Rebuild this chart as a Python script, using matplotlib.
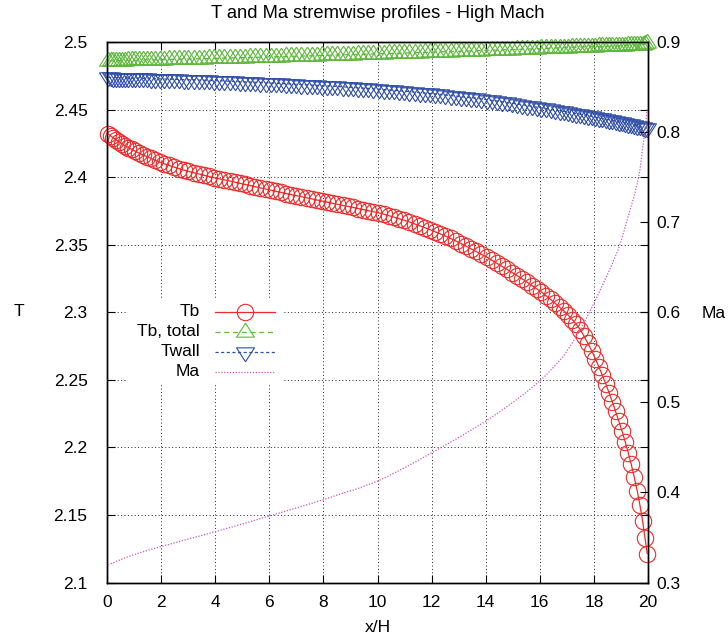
import matplotlib
matplotlib.use("Agg")
import matplotlib.pyplot as plt
from matplotlib.patches import Rectangle
from matplotlib.lines import Line2D

plt.rcParams['font.family'] = ['Liberation Sans', 'DejaVu Sans']

# streamwise stations (x/H)
x_h = [0.04, 0.13, 0.23, 0.33, 0.44, 0.55, 0.67, 0.79, 0.92, 1.05,
       1.19, 1.33, 1.48, 1.63, 1.79, 1.95, 2.12, 2.29, 2.47, 2.65,
       2.83, 3.01, 3.20, 3.39, 3.58, 3.77, 3.96, 4.15, 4.34, 4.53,
       4.72, 4.91, 5.10, 5.29, 5.48, 5.67, 5.86, 6.05, 6.24, 6.43,
       6.62, 6.81, 7.00, 7.19, 7.38, 7.57, 7.76, 7.95, 8.14, 8.33,
       8.52, 8.71, 8.90, 9.09, 9.28, 9.47, 9.66, 9.85, 10.04, 10.23,
       10.42, 10.61, 10.80, 10.99, 11.18, 11.37, 11.56, 11.75, 11.94, 12.13,
       12.32, 12.51, 12.70, 12.89, 13.08, 13.27, 13.46, 13.65, 13.84, 14.03,
       14.22, 14.41, 14.60, 14.79, 14.98, 15.17, 15.36, 15.54,
       15.72, 15.89, 16.06, 16.23, 16.40, 16.57, 16.73, 16.89, 17.05, 17.20,
       17.35, 17.50, 17.64, 17.78, 17.92, 18.05, 18.18, 18.31, 18.44, 18.56,
       18.68, 18.80, 18.92, 19.04, 19.16, 19.27, 19.38, 19.49, 19.60, 19.70,
       19.80, 19.89, 19.97]

# bulk temperature
tb = [2.4320, 2.4306, 2.4291, 2.4277, 2.4262, 2.4248, 2.4233, 2.4219, 2.4205, 2.4191,
      2.4177, 2.4164, 2.4151, 2.4138, 2.4125, 2.4112, 2.4099, 2.4087, 2.4075, 2.4064,
      2.4053, 2.4043, 2.4033, 2.4024, 2.4014, 2.4005, 2.3996, 2.3988, 2.3980, 2.3972,
      2.3963, 2.3955, 2.3946, 2.3938, 2.3929, 2.3921, 2.3912, 2.3904, 2.3896, 2.3887,
      2.3879, 2.3871, 2.3863, 2.3855, 2.3847, 2.3839, 2.3831, 2.3823, 2.3815, 2.3807,
      2.3799, 2.3791, 2.3784, 2.3776, 2.3768, 2.3760, 2.3752, 2.3744, 2.3736, 2.3726,
      2.3715, 2.3704, 2.3692, 2.3681, 2.3668, 2.3654, 2.3640, 2.3626, 2.3612, 2.3596,
      2.3580, 2.3564, 2.3547, 2.3528, 2.3509, 2.3490, 2.3470, 2.3450, 2.3429, 2.3409,
      2.3386, 2.3363, 2.3340, 2.3317, 2.3294, 2.3270, 2.3246, 2.3222,
      2.3197, 2.3173, 2.3150, 2.3123, 2.3095, 2.3066, 2.3038, 2.3010, 2.2979, 2.2946,
      2.2910, 2.2870, 2.2822, 2.2770, 2.2715, 2.2658, 2.2598, 2.2535, 2.2470, 2.2405,
      2.2338, 2.2268, 2.2195, 2.2120, 2.2040, 2.1960, 2.1875, 2.1782, 2.1680, 2.1575,
      2.1455, 2.1330, 2.1215]

# total bulk temperature
tb_total = [2.4860, 2.4861, 2.4861, 2.4861, 2.4862, 2.4862, 2.4863, 2.4864, 2.4864, 2.4865,
            2.4866, 2.4866, 2.4867, 2.4868, 2.4868, 2.4869, 2.4870, 2.4871, 2.4872, 2.4872,
            2.4873, 2.4874, 2.4875, 2.4876, 2.4877, 2.4878, 2.4879, 2.4880, 2.4881, 2.4882,
            2.4883, 2.4884, 2.4885, 2.4886, 2.4887, 2.4888, 2.4889, 2.4890, 2.4891, 2.4892,
            2.4893, 2.4894, 2.4895, 2.4896, 2.4897, 2.4898, 2.4899, 2.4901, 2.4902, 2.4903,
            2.4904, 2.4905, 2.4906, 2.4907, 2.4908, 2.4909, 2.4910, 2.4912, 2.4913, 2.4914,
            2.4915, 2.4916, 2.4917, 2.4918, 2.4920, 2.4921, 2.4922, 2.4923, 2.4924, 2.4926,
            2.4927, 2.4928, 2.4929, 2.4930, 2.4932, 2.4933, 2.4934, 2.4935, 2.4937, 2.4938,
            2.4939, 2.4940, 2.4942, 2.4943, 2.4944, 2.4946, 2.4947, 2.4948,
            2.4949, 2.4951, 2.4952, 2.4953, 2.4954, 2.4955, 2.4956, 2.4957, 2.4959, 2.4960,
            2.4961, 2.4962, 2.4963, 2.4964, 2.4965, 2.4966, 2.4967, 2.4968, 2.4968, 2.4969,
            2.4970, 2.4971, 2.4972, 2.4973, 2.4974, 2.4975, 2.4976, 2.4976, 2.4977, 2.4978,
            2.4979, 2.4982, 2.4995]

# wall temperature
t_wall = [2.4738, 2.4738, 2.4737, 2.4737, 2.4736, 2.4735, 2.4735, 2.4734, 2.4733, 2.4733,
          2.4732, 2.4731, 2.4730, 2.4729, 2.4728, 2.4727, 2.4726, 2.4725, 2.4724, 2.4723,
          2.4722, 2.4721, 2.4720, 2.4718, 2.4717, 2.4716, 2.4714, 2.4713, 2.4712, 2.4710,
          2.4708, 2.4707, 2.4705, 2.4703, 2.4702, 2.4700, 2.4698, 2.4697, 2.4695, 2.4693,
          2.4691, 2.4689, 2.4687, 2.4685, 2.4683, 2.4681, 2.4679, 2.4677, 2.4675, 2.4673,
          2.4671, 2.4668, 2.4666, 2.4664, 2.4661, 2.4659, 2.4656, 2.4654, 2.4651, 2.4648,
          2.4645, 2.4642, 2.4639, 2.4636, 2.4633, 2.4629, 2.4626, 2.4622, 2.4619, 2.4615,
          2.4612, 2.4608, 2.4604, 2.4600, 2.4596, 2.4592, 2.4588, 2.4584, 2.4579, 2.4574,
          2.4569, 2.4564, 2.4558, 2.4553, 2.4547, 2.4541, 2.4535, 2.4530,
          2.4524, 2.4518, 2.4513, 2.4508, 2.4502, 2.4497, 2.4491, 2.4486, 2.4480, 2.4475,
          2.4470, 2.4465, 2.4460, 2.4455, 2.4450, 2.4445, 2.4440, 2.4435, 2.4430, 2.4425,
          2.4420, 2.4415, 2.4410, 2.4405, 2.4400, 2.4395, 2.4390, 2.4385, 2.4380, 2.4375,
          2.4370, 2.4366, 2.4362]

# bulk Mach number (right axis)
mach = [0.3195, 0.3207, 0.3220, 0.3233, 0.3247, 0.3261, 0.3275, 0.3288, 0.3302, 0.3315,
        0.3329, 0.3342, 0.3356, 0.3369, 0.3383, 0.3396, 0.3410, 0.3424, 0.3439, 0.3454,
        0.3468, 0.3483, 0.3499, 0.3514, 0.3530, 0.3546, 0.3562, 0.3578, 0.3594, 0.3610,
        0.3626, 0.3642, 0.3659, 0.3676, 0.3693, 0.3710, 0.3727, 0.3744, 0.3761, 0.3778,
        0.3795, 0.3812, 0.3828, 0.3846, 0.3863, 0.3880, 0.3898, 0.3915, 0.3934, 0.3953,
        0.3972, 0.3991, 0.4010, 0.4025, 0.4045, 0.4066, 0.4087, 0.4108, 0.4131, 0.4158,
        0.4186, 0.4215, 0.4244, 0.4273, 0.4304, 0.4335, 0.4366, 0.4398, 0.4430, 0.4462,
        0.4494, 0.4526, 0.4559, 0.4591, 0.4624, 0.4658, 0.4692, 0.4726, 0.4761, 0.4796,
        0.4835, 0.4874, 0.4914, 0.4954, 0.4995, 0.5037, 0.5080, 0.5123,
        0.5167, 0.5210, 0.5255, 0.5303, 0.5356, 0.5410, 0.5464, 0.5518, 0.5592, 0.5660,
        0.5735, 0.5810, 0.5889, 0.5970, 0.6052, 0.6130, 0.6212, 0.6295, 0.6380, 0.6458,
        0.6540, 0.6625, 0.6712, 0.6825, 0.6950, 0.7065, 0.7180, 0.7290, 0.7430, 0.7575,
        0.7810, 0.8020, 0.8260]

x_ticks = [0, 2, 4, 6, 8, 10, 12, 14, 16, 18, 20]
x_tick_labels = ["0", "2", "4", "6", "8", "10", "12", "14", "16", "18", "20"]
t_ticks = [2.1, 2.15, 2.2, 2.25, 2.3, 2.35, 2.4, 2.45, 2.5]
t_tick_labels = ["2.1", "2.15", "2.2", "2.25", "2.3", "2.35", "2.4", "2.45", "2.5"]
ma_ticks = [0.3, 0.4, 0.5, 0.6, 0.7, 0.8, 0.9]
ma_tick_labels = ["0.3", "0.4", "0.5", "0.6", "0.7", "0.8", "0.9"]

series_labels = ["Tb", "Tb, total", "Twall", "Ma"]

# open triangles with their centroid on the data point
tri_up = [(0, 9.33), (-9, -4.67), (9, -4.67), (0, 9.33)]
tri_down = [(0, -9.33), (-9, 4.67), (9, 4.67), (0, -9.33)]

RED = "#ee2a2a"
GREEN = "#5cb83a"
BLUE = "#2f4ea8"
MAGENTA = "#cc55c0"

styles = [
    dict(color=RED, lw=0.9, ls="-", marker="o", ms=11.8, mfc="none", mew=0.8),
    dict(color=GREEN, lw=0.9, ls=(0, (4, 3)), marker=tri_up, ms=13.4, mfc="none", mew=0.8),
    dict(color=BLUE, lw=0.9, ls=(0, (2.5, 2)), marker=tri_down, ms=13.4, mfc="none", mew=0.8),
    dict(color=MAGENTA, lw=0.9, ls=(0, (1, 1.3))),
]

FS = 12.5

fig = plt.figure(figsize=(7.28, 6.39), dpi=100)
ax = fig.add_axes([107 / 728, 1 - 582.6 / 639, 541 / 728, 540.6 / 639])
ax2 = ax.twinx()

ax.set_xlim(0, 20)
ax.set_ylim(2.1, 2.5)
ax2.set_ylim(0.3, 0.9)

ax.set_xticks(x_ticks)
ax.set_xticklabels(x_tick_labels, fontsize=FS)
ax.set_yticks(t_ticks)
ax.set_yticklabels(t_tick_labels, fontsize=FS)
ax2.set_yticks(ma_ticks)
ax2.set_yticklabels(ma_tick_labels, fontsize=FS)

ax.grid(True, ls=(0, (1, 2.5)), color="#222222", lw=0.7)

ax.tick_params(axis="both", direction="in", length=6, width=0.8,
               top=True, right=True, labelright=False, labeltop=False)
ax.tick_params(axis="x", pad=9)
ax.tick_params(axis="y", pad=14)
ax2.tick_params(axis="y", direction="in", length=6, width=0.8, pad=6)

for a in (ax, ax2):
    for sp in a.spines.values():
        sp.set_linewidth(1.0)
        sp.set_color("black")

ax.plot(x_h, tb, clip_on=False, zorder=3, **styles[0])
ax.plot(x_h, tb_total, clip_on=False, zorder=3, **styles[1])
ax.plot(x_h, t_wall, clip_on=False, zorder=3, **styles[2])
ax2.plot(x_h, mach, clip_on=False, zorder=3, **styles[3])

# key, with right-aligned labels on a blank patch
ax2.add_patch(Rectangle((0.039, 0.365), 0.286, 0.158, transform=ax2.transAxes,
                        facecolor="white", edgecolor="none", zorder=5))
key_rows = [0.5006, 0.4636, 0.4266, 0.3896]
for label, style, yk in zip(series_labels, styles, key_rows):
    ax2.text(0.172, yk, label, transform=ax2.transAxes, ha="right", va="center",
             fontsize=FS, zorder=6)
    ax2.add_line(Line2D([0.1996, 0.255, 0.3105], [yk, yk, yk], transform=ax2.transAxes,
                        markevery=[1], zorder=6, **style))

fig.text(378 / 728, 1 - 14 / 639, "T and Ma stremwise profiles - High Mach",
         ha="center", va="center", fontsize=13.2)
fig.text(377.5 / 728, 1 - 628 / 639, "x/H", ha="center", va="center", fontsize=FS)
fig.text(19 / 728, 1 - 312 / 639, "T", ha="center", va="center", fontsize=FS)
fig.text(726 / 728, 1 - 313 / 639, "Ma", ha="right", va="center", fontsize=FS)

fig.savefig("out.png", dpi=100)
